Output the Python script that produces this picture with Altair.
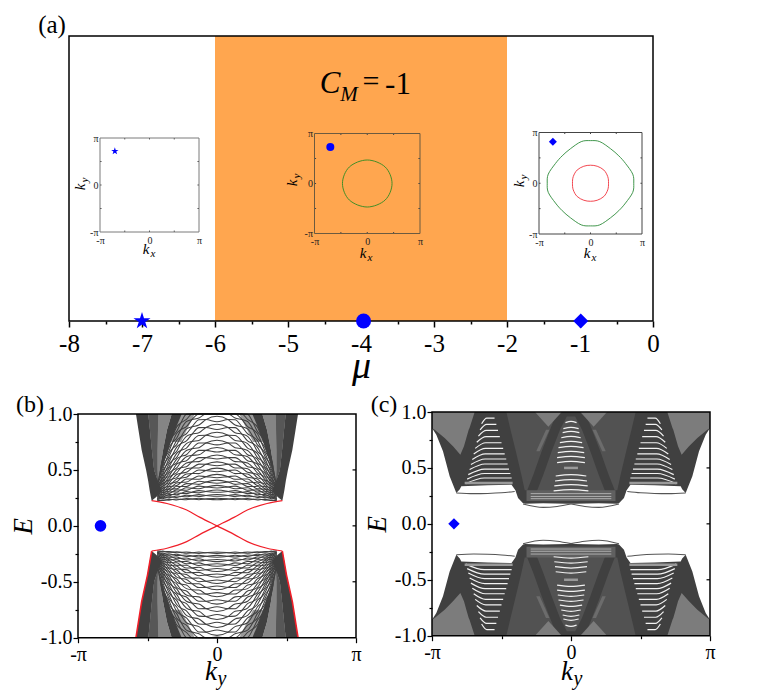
import altair as alt

SERIF = "Liberation Serif"
BLUE = "#0000FF"
DARK = "#404040"
HATCH = "#7c7c7c"
DITHER = "#525252"
ORANGE = "#FFA64F"
STAR = "M0,-1L.2245,-.309L.951,-.309L.363,.118L.588,.809L0,.382L-.588,.809L-.363,.118L-.951,-.309L-.2245,-.309Z"

# ---------------- values ----------------
MU_TICKS = [-8, -7, -6, -5, -4, -3, -2, -1, 0]
MU_MINOR = [-7.5, -6.5, -5.5, -4.5, -3.5, -2.5, -1.5, -0.5]
PHASE_X = [-6, -2]
MARK_MU = [-7, -3.965, -0.99]
INSET_TICKS = [-0.5, 0, 0.5]
E_TICKS = [-1, -0.5, 0, 0.5, 1]
E_MINOR = [-0.75, -0.25, 0.25, 0.75]
K_TICKS = [-1, 0, 1]
K_MINOR = [-0.5, 0.5]

# Fermi contours (first quadrant, units of pi)
CIRCLE_X = [0.47, 0.34, 0.0]
CIRCLE_Y = [0.0, 0.33, 0.47]
GREEN_X = [0.84, 0.82, 0.68, 0.55, 0.39, 0.18, 0.0]
GREEN_Y = [0.0, 0.18, 0.39, 0.54, 0.68, 0.82, 0.84]
RED_X = [0.35, 0.335, 0.26, 0.13, 0.0]
RED_Y = [0.0, 0.13, 0.26, 0.335, 0.355]

# panel (b), upper band
B_FAN_K = [0.0, .08, .13, .18, .22, .26, .29, .32, .345, .37, .39, .41, .43]
B_FAN = [
    [.24, .24, .24, .24, .239, .237, .236, .235, .233, .231, .229, .227, .225],
    [.272, .272, .271, .269, .267, .263, .26, .258, .255, .252, .247, .242, .235],
    [.31, .308, .305, .301, .297, .291, .286, .28, .274, .268, .26, .253, .245],
    [.35, .348, .343, .336, .329, .32, .312, .305, .296, .285, .275, .265, .255],
    [.395, .392, .385, .376, .365, .352, .342, .33, .318, .303, .29, .278, .265],
    [.445, .44, .431, .418, .405, .388, .372, .355, .34, .323, .308, .292, .275],
    [.50, .495, .483, .468, .45, .428, .407, .385, .365, .345, .325, .305, .285],
    [.555, .55, .535, .517, .495, .47, .445, .42, .395, .37, .345, .32, .295],
    [.615, .61, .592, .572, .545, .52, .488, .455, .425, .395, .365, .335, .305],
    [.68, .675, .655, .63, .60, .57, .535, .495, .46, .425, .39, .355, .32],
    [.745, .74, .72, .69, .655, .62, .58, .54, .50, .455, .415, .375, .335],
    [.815, .81, .785, .755, .715, .675, .63, .585, .54, .49, .445, .395, .35],
    [.885, .88, .855, .82, .78, .735, .685, .635, .585, .53, .48, .425, .37],
    [.955, .95, .925, .885, .845, .795, .745, .69, .635, .575, .52, .455, .39],
    [1.02, 1.015, .99, .95, .91, .86, .805, .745, .685, .62, .56, .485, .41],
    [1.09, 1.085, 1.055, 1.01, .975, .92, .865, .80, .74, .67, .60, .515, .43],
]
B_LENS = [1, 0, -1, 0, .9, 0, -.8, 0, .6, 0, -.5, 0, 0]
B_LENS_H = [.006, .008, .010, .012, .014, .015, .016, .017, .018, .02, .021, .022, .023, .024, .025, .025]
B_D1_E = [.225, .26, .32, .40, .5, .678, .857, 1.0]
B_D1_K1 = [-.47, -.476, -.485, -.495, -.51, -.542, -.565, -.583]
B_D1_K2 = [-.47, -.435, -.40, -.425, -.452, -.468, -.482, -.494]
B_H_E = [.40, .5, .678, .857, 1.0]
B_H_K1 = [-.425, -.452, -.468, -.482, -.494]
B_H_K2 = [-.425, -.41, -.388, -.36, -.326]
B_D2_K1 = [-.425, -.41, -.388, -.36, -.326]
B_D2_K2 = [-.42, -.40, -.352, -.302, -.254]
B_S_K2 = [-.425, -.43, -.43, -.425, -.424]
B_TOP_E = [.75, 1.0]
B_TOP_K1 = [-.34, -.26]
B_TOP_K2 = [-.26, -.16]
B_EDGE_K = [-.47, -.36, -.218, -.122, 0, .122, .218, .36, .47]
B_EDGE_E = [.225, .20, .141, .076, 0, -.076, -.141, -.20, -.225]
B_RED_K = [-.47, -.50, -.542, -.583]
B_RED_E = [-.225, -.44, -.678, -1.0]

# panel (c), upper band, left half
C_LOW_K = [-1, -.969, -.921, -.873, -.825, -.80, -.789, -.60, -.428, -.40, -.381, -.345, -.33, -.2, -.03, 0]
C_LOW_E = [.857, .797, .648, .425, .276, .31, .336, .345, .35, .30, .231, .185, .18, .185, .18, .18]
C_H1_E = [.618, .693, .768, .842, .857, 1.0]
C_H1_K1 = [-.796, -.849, -.909, -.981, -1.0, -1.0]
C_H1_K2 = [-.796, -.77, -.753, -.736, -.73, -.693]
C_H2_E = [.869, 1.0]
C_H2_K1 = [-.163, -.259]
C_H2_K2 = [-.163, -.067]
C_D_E = [.30, .44, .648, .842, 1.0]
C_D_K1 = [-.333, -.357, -.397, -.435, -.465]
C_D_K2 = [-.315, -.271, -.211, -.151, -.10]
C_BELL_E = [.288, .44, .648, .842, .96]
C_BELL_K = [-.247, -.199, -.139, -.079, -.03]
C_LEG_E = [.648, .842]
C_LEG_K1 = [-.25, -.18]
C_LEG_K2 = [-.225, -.155]
C_LOWBAND_E = [.205, .30]
C_LOWBAND_K1 = [-.32, -.32]
C_LOWBAND_K2 = [0, 0]
C_FAN = [  # E, left k, right k
    (.41, -.756, -.427), (.45, -.747, -.436), (.49, -.739, -.446), (.535, -.729, -.456),
    (.58, -.72, -.466), (.625, -.71, -.477), (.675, -.70, -.488), (.725, -.689, -.50),
    (.78, -.678, -.512), (.835, -.666, -.525), (.89, -.654, -.537), (.945, -.643, -.55),
]
C_BELL = [  # E, half width
    (.917, .04), (.863, .055), (.827, .06), (.782, .07), (.738, .08), (.693, .09), (.648, .095),
    (.604, .10), (.559, .10), (.44, .11), (.395, .115), (.351, .12), (.306, .125),
]
C_LOW_STREAK_E = [.225, .245, .27]
C_THIN1_K = [-.825, -.7, -.6, -.5, -.405]
C_THIN1_E = [.276, .27, .272, .278, .29]
C_THIN2_K = [-.345, -.2, -.1, 0]
C_THIN2_E = [.178, .147, .155, .177]


# ---------------- helpers ----------------
def sx(lo, hi, a, b):
    return alt.Scale(domain=[lo, hi], range=[a - 8, b - 8], nice=False, zero=False)


def sy(lo, hi, bottom, top, clamp=False):
    return alt.Scale(domain=[lo, hi], range=[bottom - 8, top - 8], nice=False, zero=False, clamp=clamp)


H = 683
layers = []


def frame(xs, ys, x0, x1, y0, y1, color="black", width=1.5, xaxis=None, yaxis=None, visible=True):
    kw = dict(filled=False, stroke=color, strokeWidth=width) if visible else dict(opacity=0)
    layers.append(
        alt.Chart(alt.Data(values=[{"a": x0, "b": x1, "c": y0, "d": y1}]))
        .mark_rect(**kw)
        .encode(
            x=alt.X("a:Q", scale=xs, axis=xaxis),
            x2="b:Q",
            y=alt.Y("c:Q", scale=ys, axis=yaxis),
            y2="d:Q",
        )
    )


def lines(xs, ys, rows, color, width, interp="linear"):
    layers.append(
        alt.Chart(alt.Data(values=rows))
        .mark_line(color=color, strokeWidth=width, interpolate=interp)
        .encode(
            x=alt.X("x:Q", scale=xs, axis=None),
            y=alt.Y("y:Q", scale=ys, axis=None),
            detail="id:N",
            order="o:Q",
        )
    )


def curve_rows(*curves):
    rows = []
    for i, (X, Y) in enumerate(curves):
        for j, (a, b) in enumerate(zip(X, Y)):
            rows.append({"x": a, "y": b, "id": i, "o": j})
    return rows


def strips(xs, ys, items, color, both_k=True, both_e=True):
    rows = []
    n = 0
    for E, K1, K2 in items:
        for es in ([1, -1] if both_e else [1]):
            for mirror in ([False, True] if both_k else [False]):
                for e, a, b in zip(E, K1, K2):
                    x1, x2 = (-b, -a) if mirror else (a, b)
                    rows.append({"e": es * e, "p": x1, "q": x2, "id": n})
                n += 1
    layers.append(
        alt.Chart(alt.Data(values=rows))
        .mark_area(orient="horizontal", color=color, interpolate="linear", opacity=1)
        .encode(
            y=alt.Y("e:Q", scale=ys, axis=None),
            x=alt.X("p:Q", scale=xs, axis=None),
            x2="q:Q",
            detail="id:N",
        )
    )


def point(xs, ys, x, y, shape, size):
    layers.append(
        alt.Chart(alt.Data(values=[{"x": x, "y": y}]))
        .mark_point(shape=shape, filled=True, size=size, color=BLUE, opacity=1)
        .encode(x=alt.X("x:Q", scale=xs, axis=None), y=alt.Y("y:Q", scale=ys, axis=None))
    )


def note(text, x, y, size, italic=False, angle=0, color="black"):
    kw = dict(fontStyle="italic") if italic else {}
    layers.append(
        alt.Chart(alt.Data(values=[{"t": text}]))
        .mark_text(font=SERIF, fontSize=size, align="center", baseline="alphabetic", angle=angle, color=color, **kw)
        .encode(x=alt.value(x - 8), y=alt.value(y - 8), text="t:N")
    )


PI_LABELS = "datum.value == -1 ? '-π' : datum.value == 1 ? 'π' : '0'"
NUM1 = "(datum.value < 0 ? '-' : '') + format(abs(datum.value), '.1f')"
MU_LABELS = "(datum.value < 0 ? '-' : '') + format(abs(datum.value), 'd')"


def quad(X, Y):
    """closed contour from a first-quadrant list"""
    px = list(X) + [-v for v in reversed(X[:-1])] + [-v for v in X[1:]] + [v for v in reversed(X[1:-1])]
    py = list(Y) + [v for v in reversed(Y[:-1])] + [-v for v in Y[1:]] + [-v for v in reversed(Y[1:-1])]
    return px, py


# ---------------- panel (a) ----------------
ax = sx(-8, 0, 69, 653)
ay = sy(0, 1, 321, 36)
layers.append(
    alt.Chart(alt.Data(values=[{"a": PHASE_X[0], "b": PHASE_X[1], "c": 0, "d": 1}]))
    .mark_rect(color=ORANGE, opacity=1)
    .encode(x=alt.X("a:Q", scale=ax, axis=None), x2="b:Q", y=alt.Y("c:Q", scale=ay, axis=None), y2="d:Q")
)
frame(
    ax, ay, -8, 0, 0, 1,
    xaxis=alt.Axis(
        orient="bottom", offset=313 - H, values=MU_TICKS, grid=False, domain=False, tickColor="black", tickWidth=1.5,
        tickSize=6, labelFont=SERIF, labelFontSize=25, labelColor="black", labelPadding=4, labelExpr=MU_LABELS,
        labelOverlap=False, labelFlush=False, title="μ", titleFont=SERIF, titleFontSize=38, titleFontStyle="italic",
        titleFontWeight="normal", titleColor="black", titlePadding=-9,
    ),
)
frame(
    ax, ay, -8, 0, 0, 1, visible=False,
    xaxis=alt.Axis(orient="bottom", offset=313 - H, values=MU_MINOR, grid=False, domain=False, labels=False,
                   tickColor="black", tickWidth=1.5, tickSize=3, title=None),
)
for m, s, z in zip(MARK_MU, [STAR, "circle", "diamond"], [320, 225, 225]):
    point(ax, ay, m, 0, s, z)

note("(a)", 52, 33, 25)
note("C", 330, 93, 31, italic=True)
note("M", 349, 101, 21, italic=True)
note("=", 371, 91, 30)
note("-1", 398, 94, 31)


def inset(x0, x1, y0, y1, marker, msize, mxy, color, curves, kx, ky):
    ix = sx(-1, 1, x0, x1)
    iy = sy(-1, 1, y0, y1)
    tick = 0.03
    # inward tick marks on all four sides
    rows_v = []
    for t in INSET_TICKS:
        rows_v += [{"x": t, "y": -1, "y2": -1 + tick}, {"x": t, "y": 1 - tick, "y2": 1}]
    rows_h = []
    for t in INSET_TICKS:
        rows_h += [{"y": t, "x": -1, "x2": -1 + tick}, {"y": t, "x": 1 - tick, "x2": 1}]
    layers.append(
        alt.Chart(alt.Data(values=rows_v)).mark_rule(color="#444444", strokeWidth=1)
        .encode(x=alt.X("x:Q", scale=ix, axis=None), y=alt.Y("y:Q", scale=iy, axis=None), y2="y2:Q")
    )
    layers.append(
        alt.Chart(alt.Data(values=rows_h)).mark_rule(color="#444444", strokeWidth=1)
        .encode(y=alt.Y("y:Q", scale=iy, axis=None), x=alt.X("x:Q", scale=ix, axis=None), x2="x2:Q")
    )
    frame(
        ix, iy, -1, 1, -1, 1, color=color, width=1,
        xaxis=alt.Axis(orient="bottom", offset=(y0 - 8) - H, values=K_TICKS, grid=False, domain=False, tickSize=0,
                       labelFont=SERIF, labelFontSize=10, labelColor="#222222", labelPadding=3, labelExpr=PI_LABELS,
                       labelOverlap=False, labelFlush=False, title=None, zindex=1),
        yaxis=alt.Axis(orient="left", offset=-(x0 - 8), values=K_TICKS, grid=False, domain=False, tickSize=0,
                       labelFont=SERIF, labelFontSize=10, labelColor="#222222", labelPadding=2, labelExpr=PI_LABELS,
                       labelOverlap=False, labelFlush=False, title=None, zindex=1),
    )
    for (X, Y, c) in curves:
        px, py = quad(X, Y)
        rows = [{"x": a, "y": b, "id": 0, "o": j} for j, (a, b) in enumerate(zip(px, py))]
        lines(ix, iy, rows, c, 0.9, "cardinal-closed")
    point(ix, iy, mxy[0], mxy[1], marker, msize)
    note("k", kx[0], kx[1], 15, italic=True)
    note("x", kx[0] + 7, kx[1] + 3, 11, italic=True)
    note("k", ky[0], ky[1], 15, italic=True, angle=270)
    note("y", ky[0] + 3, ky[1] - 7, 11, italic=True, angle=270)


inset(100, 199, 232, 138, STAR, 60, (-.70, .72), "#7a7a7a", [], (146, 254), (85, 187))
inset(314.5, 420, 233.5, 133.5, "circle", 64, (-.70, .73), "#6b5a40", [(CIRCLE_X, CIRCLE_Y, "#2E8B22")], (363, 258), (297, 183))
inset(539, 642, 234, 132.5, "diamond", 64, (-.73, .82), "#444444",
      [(GREEN_X, GREEN_Y, "#2E8B3A"), (RED_X, RED_Y, "#F0323C")], (587, 258), (524, 184))


# ---------------- shared frame for (b), (c) ----------------
def band_axes(xs, ys, x0, y_bottom, title_pad):
    frame(
        xs, ys, -1, 1, -1, 1,
        xaxis=alt.Axis(orient="bottom", offset=(y_bottom - 8) - H, values=K_TICKS, grid=False, domain=False,
                       tickColor="black", tickWidth=1.2, tickSize=5, labelFont=SERIF, labelFontSize=20,
                       labelColor="black", labelPadding=2, labelExpr=PI_LABELS, labelOverlap=False,
                       labelFlush=False, title=None),
        yaxis=alt.Axis(orient="left", offset=-(x0 - 8), values=E_TICKS, grid=False, domain=False,
                       tickColor="black", tickWidth=1.2, tickSize=5, labelFont=SERIF, labelFontSize=20,
                       labelColor="black", labelPadding=1, labelExpr=NUM1, labelOverlap=False, labelFlush=False,
                       title="E", titleFont=SERIF, titleFontSize=27, titleFontStyle="italic",
                       titleFontWeight="normal", titleColor="black", titlePadding=title_pad),
    )
    frame(
        xs, ys, -1, 1, -1, 1, visible=False,
        xaxis=alt.Axis(orient="bottom", offset=(y_bottom - 8) - H, values=K_MINOR, grid=False, domain=False,
                       labels=False, tickColor="black", tickWidth=1.2, tickSize=3, title=None),
        yaxis=alt.Axis(orient="left", offset=-(x0 - 8), values=E_MINOR, grid=False, domain=False, labels=False,
                       tickColor="black", tickWidth=1.2, tickSize=3, title=None),
    )
    rows = [{"y": t, "x": 0.975, "x2": 1} for t in [-.5, 0, .5]]
    layers.append(
        alt.Chart(alt.Data(values=rows)).mark_rule(color="black", strokeWidth=1.2)
        .encode(y=alt.Y("y:Q", scale=ys, axis=None), x=alt.X("x:Q", scale=xs, axis=None), x2="x2:Q")
    )


# ---------------- panel (b) ----------------
bx = sx(-1, 1, 78, 356)
by = sy(-1, 1, 637.7, 414, clamp=True)
strips(bx, by, [(B_TOP_E, B_TOP_K1, B_TOP_K2)], "#9a9a9a")
curves = []
for r, row in enumerate(B_FAN):
    d = B_LENS_H[r]
    for sgn in (1, -1):
        for es in (1, -1):
            E = [es * (v + sgn * d * l) for v, l in zip(row, B_LENS)]
            K = [-v for v in reversed(B_FAN_K[1:])] + B_FAN_K
            curves.append((K, list(reversed(E[1:])) + E))
lines(bx, by, curve_rows(*curves), DARK, 1.05, "monotone")
strips(bx, by, [(B_H_E, B_H_K1, B_H_K2)], "#858585")
strips(bx, by, [(B_H_E, B_H_K1, B_S_K2)], "#575757")
strips(bx, by, [(B_D1_E, B_D1_K1, B_D1_K2), (B_H_E, B_D2_K1, B_D2_K2)], DARK)
lines(bx, by, curve_rows((B_EDGE_K, B_EDGE_E), ([-v for v in B_EDGE_K], B_EDGE_E)), "#F01E28", 1.2, "monotone")
lines(bx, by, curve_rows((B_RED_K, B_RED_E), ([-v for v in B_RED_K], B_RED_E)), "#F01E28", 1.6)
point(bx, by, -.838, 0, "circle", 135)
band_axes(bx, by, 78, 637.7, 3)
note("(b)", 30, 412, 24)
note("k", 211, 680, 27, italic=True)
note("y", 222, 685, 20, italic=True)

# ---------------- panel (c) ----------------
cx = sx(-1, 1, 432, 710)
cy = sy(-1, 1, 635.7, 412, clamp=True)
low_k = C_LOW_K + [-v for v in reversed(C_LOW_K[:-1])]
low_e = C_LOW_E + list(reversed(C_LOW_E[:-1]))
rows = []
for es, tag in ((1, 0), (-1, 1)):
    for a, b in zip(low_k, low_e):
        rows.append({"x": a, "y": es * b, "y2": es * 1.0, "id": tag})
layers.append(
    alt.Chart(alt.Data(values=rows))
    .mark_area(color=DARK, opacity=1, interpolate="linear")
    .encode(x=alt.X("x:Q", scale=cx, axis=None), y=alt.Y("y:Q", scale=cy, axis=None), y2="y2:Q", detail="id:N")
)
strips(cx, cy, [(C_D_E, C_D_K1, C_D_K2), (C_BELL_E, C_BELL_K, [0] * len(C_BELL_K))], DITHER)
strips(cx, cy, [(C_LOWBAND_E, C_LOWBAND_K1, C_LOWBAND_K2)], "#606060")
strips(cx, cy, [(C_LEG_E, C_LEG_K1, C_LEG_K2)], "#6c6c6c")
strips(cx, cy, [(C_H1_E, C_H1_K1, C_H1_K2), (C_H2_E, C_H2_K1, C_H2_K2)], HATCH)

fan_curves = []
for E, kl, kr in C_FAN:
    km = kl + 0.4 * (kr - kl)
    for es in (1, -1):
        for s in (1, -1):
            fan_curves.append(([s * kl, s * km, s * kr], [es * (E - .05), es * E, es * E]))
for E, h in C_BELL:
    for es in (1, -1):
        fan_curves.append(([-h, 0, h], [es * (E - .012), es * E, es * (E - .012)]))
lines(cx, cy, curve_rows(*fan_curves), "#f2f2f2", 1.2, "monotone")

low_streaks = []
for E in C_LOW_STREAK_E:
    for es in (1, -1):
        low_streaks.append(([-.29, .29], [es * E, es * E]))
lines(cx, cy, curve_rows(*low_streaks), "#b8b8b8", 0.9)

grey = []
for es in (1, -1):
    grey.append(([-.05, .05], [es * .50, es * .50]))
    for s in (1, -1):
        grey.append(([s * .765, s * .42], [es * .365, es * .365]))
lines(cx, cy, curve_rows(*grey), "#9a9a9a", 2.5)

thin = []
for es in (1, -1):
    for s in (1, -1):
        thin.append(([s * v for v in C_THIN1_K], [es * v for v in C_THIN1_E]))
        thin.append(([s * v for v in C_THIN2_K], [es * v for v in C_THIN2_E]))
lines(cx, cy, curve_rows(*thin), "#555555", 1.1, "monotone")
point(cx, cy, -.842, 0, "diamond", 130)
band_axes(cx, cy, 432, 635.7, 3)
note("(c)", 384, 412, 24)
note("k", 567, 680, 27, italic=True)
note("y", 578, 685, 20, italic=True)

chart = (
    alt.layer(*layers)
    .resolve_scale(x="independent", y="independent")
    .properties(width=742, height=H, padding=0, autosize=alt.AutoSizeParams(type="none"), background="white")
    .configure_view(stroke=None)
)
chart.save("out.html", embed_options={"renderer": "svg", "actions": False})
